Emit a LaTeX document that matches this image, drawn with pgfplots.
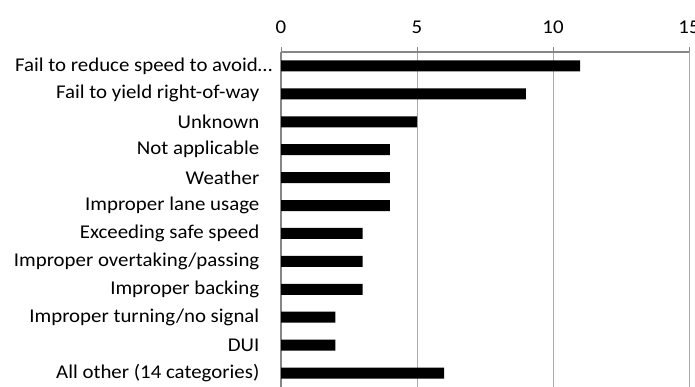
\documentclass[border=0pt]{standalone}
\usepackage{fontspec}
\setmainfont{Carlito}[FakeStretch=1.07]
\usepackage{pgfplots}
\pgfplotsset{compat=1.18}
\definecolor{axisgray}{RGB}{134,134,134}
\definecolor{gridgray}{RGB}{170,170,170}
\begin{document}
\fontsize{19.5pt}{23pt}\selectfont
\begin{tikzpicture}
\useasboundingbox (0,0) rectangle (695pt,-386pt);
\begin{axis}[
  at={(281pt,-52pt)}, anchor=north west,
  scale only axis, width=408pt, height=335pt,
  xbar, bar width=11pt,
  xmin=0, xmax=15, ymin=-0.5, ymax=11.5,
  y dir=reverse,
  axis x line*=top, axis y line*=left,
  axis line style={axisgray, line width=1.2pt},
  xtick={0,5,10,15},
  xmajorgrids, major grid style={gridgray, line width=1pt},
  tick align=outside,
  x tick style={axisgray, line width=0.8pt},
  major tick length=5pt,
  ytick={0,...,11},
  yticklabels={{Fail to reduce speed to avoid\ldots\hspace*{-13pt}},Fail to yield right-of-way,Unknown,Not applicable,Weather,Improper lane usage,Exceeding safe speed,Improper overtaking/passing,Improper backing,Improper turning/no signal,DUI,All other (14 categories)},
  y tick style={draw=none},
  yticklabel style={font=\fontsize{19.5pt}{23pt}\selectfont, xshift=-10pt},
  xticklabel style={font=\fontsize{19.5pt}{23pt}\selectfont, yshift=7pt},
  extra y ticks={-0.5,0.5,...,11.5},
  extra y tick labels={},
  extra y tick style={grid=none, tick style={draw=axisgray, line width=0.8pt}},
  /pgf/number format/assume math mode=true,
  clip=false,
]
\addplot[fill=black, draw=none] coordinates {
(11,0) (9,1) (5,2) (4,3) (4,4) (4,5) (3,6) (3,7) (3,8) (2,9) (2,10) (6,11)
};
\end{axis}
\end{tikzpicture}
\end{document}
